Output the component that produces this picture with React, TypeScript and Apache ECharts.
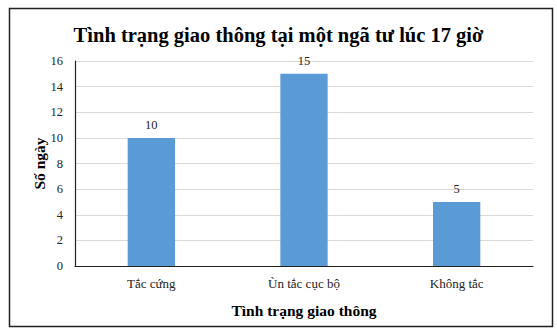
import React, { useEffect, useRef } from "react";
import * as echarts from "echarts";

const categories = ["Tắc cứng", "Ùn tắc cục bộ", "Không tắc"];
const values = [10, 15, 5];
const yTicks = { min: 0, max: 16, interval: 2 };

export default function App() {
  const ref = useRef<HTMLDivElement>(null);
  useEffect(() => {
    document.body.style.margin = "0";
    const chart = echarts.init(ref.current!, null, { renderer: "svg" });
    const font = "'Liberation Serif', 'Times New Roman', serif";
    chart.setOption({
      animation: false,
      textStyle: { fontFamily: font },
      title: {
        text: "Tình trạng giao thông tại một ngã tư lúc 17 giờ",
        left: "center",
        top: 19,
        textStyle: { fontFamily: font, fontSize: 20.5, fontWeight: "bold", color: "#000" },
      },
      graphic: [
        {
          type: "rect",
          shape: { x: 9.5, y: 8.5, width: 543, height: 318 },
          style: { fill: "none", stroke: "#222", lineWidth: 1.5 },
          silent: true,
        },
      ],
      grid: { left: 75, right: 24, top: 61, bottom: 70 },
      xAxis: {
        type: "category",
        data: categories,
        name: "Tình trạng giao thông",
        nameLocation: "middle",
        nameGap: 36,
        nameMoveOverlap: false,
        nameTextStyle: { fontFamily: font, fontSize: 15.5, fontWeight: "bold", color: "#000" },
        axisLine: { lineStyle: { color: "#222", width: 1.2 } },
        axisTick: { show: false },
        axisLabel: { fontFamily: font, fontSize: 13, color: "#222", margin: 11 },
      },
      yAxis: {
        type: "value",
        min: yTicks.min,
        max: yTicks.max,
        interval: yTicks.interval,
        name: "Số ngày",
        nameLocation: "middle",
        nameGap: 36,
        nameMoveOverlap: false,
        nameTextStyle: {
          fontFamily: font,
          fontSize: 15.5,
          fontWeight: "bold",
          color: "#000",
          verticalAlign: "middle",
        },
        axisLine: { show: true, lineStyle: { color: "#222", width: 1.2 } },
        axisTick: { show: false },
        axisLabel: { fontFamily: font, fontSize: 12.5, color: "#222", margin: 12 },
        splitLine: { lineStyle: { color: "#d9d9d9", width: 1 } },
      },
      series: [
        {
          type: "bar",
          data: values,
          barWidth: "31%",
          itemStyle: { color: "#5b9bd5" },
          label: {
            show: true,
            position: "top",
            fontFamily: font,
            fontSize: 12.5,
            color: "#222",
            distance: 6,
          },
        },
      ],
    });
    return () => chart.dispose();
  }, []);
  return (
    <div
      ref={ref}
      style={{ position: "fixed", left: 0, top: 0, width: 557, height: 336, background: "#fff" }}
    />
  );
}
